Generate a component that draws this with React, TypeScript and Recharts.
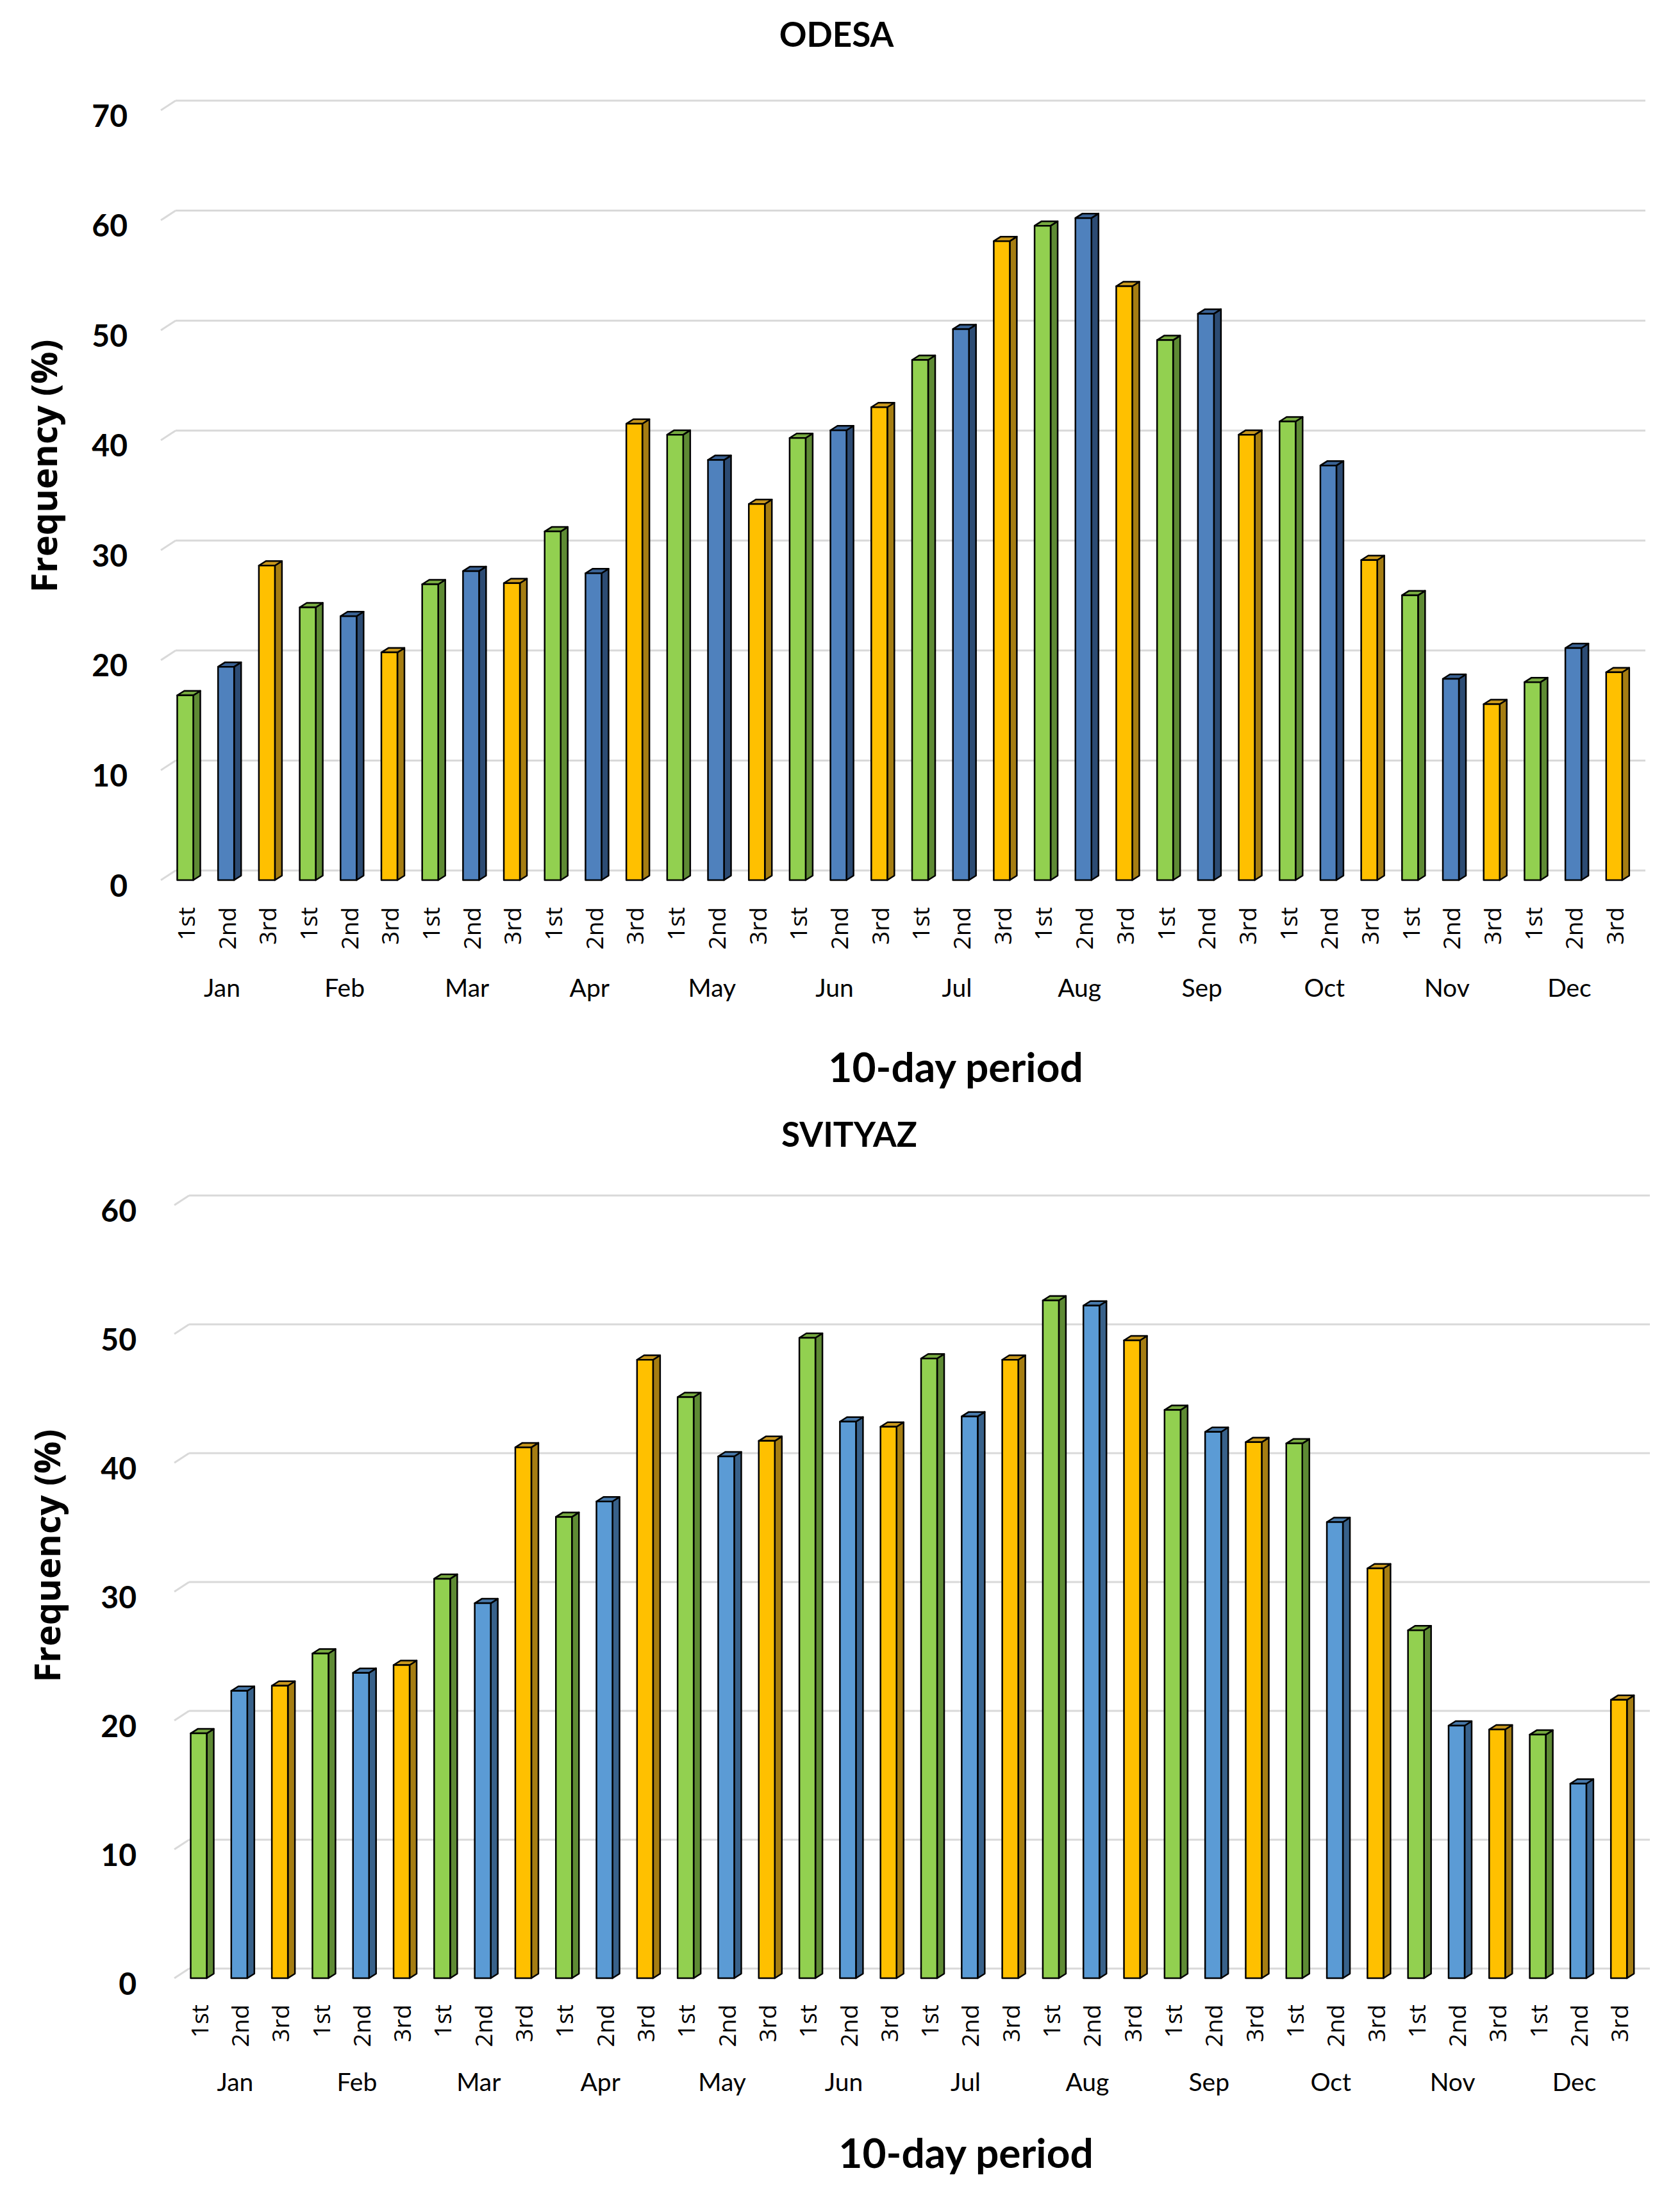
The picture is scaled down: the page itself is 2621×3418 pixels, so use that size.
import React from 'react';
import { BarChart, Bar, XAxis, YAxis, CartesianGrid } from 'recharts';

const months = ['Jan', 'Feb', 'Mar', 'Apr', 'May', 'Jun', 'Jul', 'Aug', 'Sep', 'Oct', 'Nov', 'Dec'];
const periods = ['1st', '2nd', '3rd'];

const odesaValues = [
  16.8, 19.4, 28.6, 24.8, 24.0, 20.7, 26.9, 28.1, 27.0, 31.7, 27.9, 41.5,
  40.5, 38.2, 34.2, 40.2, 40.9, 43.0, 47.3, 50.1, 58.1, 59.5, 60.2, 54.0,
  49.1, 51.5, 40.5, 41.7, 37.7, 29.1, 25.9, 18.3, 16.0, 18.0, 21.1, 18.9,
];

const svityazValues = [
  19.0, 22.3, 22.7, 25.2, 23.7, 24.3, 31.0, 29.1, 41.2, 35.8, 37.0, 48.0,
  45.1, 40.5, 41.7, 49.7, 43.2, 42.8, 48.1, 43.6, 48.0, 52.6, 52.2, 49.5,
  44.1, 42.4, 41.6, 41.5, 35.4, 31.8, 27.0, 19.6, 19.3, 18.9, 15.1, 21.6,
];

const odesaTicks = [0, 10, 20, 30, 40, 50, 60, 70];
const svityazTicks = [0, 10, 20, 30, 40, 50, 60];

type Row = { key: string; month: string; period: string; value: number };

const buildRows = (values: number[]): Row[] =>
  values.map((v, i) => ({
    key: `${months[Math.floor(i / 3)]}-${periods[i % 3]}`,
    month: months[Math.floor(i / 3)],
    period: periods[i % 3],
    value: v,
  }));

// bar depth of the fake 3D effect
const DX = 11;
const DY = 7;

type Palette = Record<string, { front: string; side: string; top: string }>;

const greenC = { front: '#92D050', side: '#5E8A34', top: '#77AA40' };
const yellowC = { front: '#FFC000', side: '#A57D12', top: '#C9981C' };

const odesaPalette: Palette = {
  '1st': greenC,
  '2nd': { front: '#4F81BD', side: '#2C4B73', top: '#3A6294' },
  '3rd': yellowC,
};
const svityazPalette: Palette = {
  '1st': greenC,
  '2nd': { front: '#5B9BD5', side: '#38618A', top: '#4879AA' },
  '3rd': yellowC,
};

const FONT_NUM = 'Lato, "Noto Sans", sans-serif';
const FONT_SEGOE = '"Open Sans", "Noto Sans", sans-serif';

interface ChartProps {
  title: string;
  rows: Row[];
  ticks: number[];
  palette: Palette;
  top: number;
  height: number;
  marginTop: number;
  plotBottom: number;
  yAxisWidth: number;
  marginRight: number;
  yLabelX: number;
  periodOffset: number;
  monthOffset: number;
  titlePos: [number, number];
  yTitlePos: [number, number];
  xTitlePos: [number, number];
}

function StationChart(p: ChartProps) {
  const max = p.ticks[p.ticks.length - 1];

  const renderBar = (props: any) => {
    const { x, y, width, height, payload } = props;
    if (height == null || width == null) return <g />;
    const c = p.palette[payload.period];
    const fx = x - DX / 2;
    const w = width;
    const h = height;
    return (
      <g stroke="#000" strokeWidth={2.5} strokeLinejoin="round">
        <polygon
          points={`${fx + w},${y} ${fx + w + DX},${y - DY} ${fx + w + DX},${y + h - DY} ${fx + w},${y + h}`}
          fill={c.side}
        />
        <polygon
          points={`${fx},${y} ${fx + DX},${y - DY} ${fx + w + DX},${y - DY} ${fx + w},${y}`}
          fill={c.top}
        />
        <rect x={fx} y={y} width={w} height={h} fill={c.front} />
      </g>
    );
  };

  const gridLine = (g: any) => {
    const { x1, x2, y1, key } = g;
    return (
      <g key={key} stroke="#D9D9D9" strokeWidth={3}>
        <line x1={x1 - 12} y1={y1} x2={x1 + 11} y2={y1 - 15} />
        <line x1={x1 + 11} y1={y1 - 15} x2={x2 + 11} y2={y1 - 15} />
      </g>
    );
  };

  const xTick = (t: any) => {
    const { x, y, index } = t;
    const row = p.rows[index];
    if (!row) return <g />;
    const tx = x - DX / 2;
    const ty = y + p.periodOffset;
    return (
      <g>
        <text
          x={tx}
          y={ty}
          transform={`rotate(-90, ${tx}, ${ty})`}
          textAnchor="end"
          dominantBaseline="central"
          fontFamily={FONT_SEGOE}
          fontSize={37}
          fill="#000"
        >
          {row.period}
        </text>
        {index % 3 === 1 && (
          <text
            x={x - 12}
            y={y + p.monthOffset}
            textAnchor="middle"
            dominantBaseline="central"
            fontFamily={FONT_NUM}
            fontSize={39}
            fill="#000"
          >
            {row.month}
          </text>
        )}
      </g>
    );
  };

  const yTick = (t: any) => {
    const { y, payload } = t;
    return (
      <text
        x={p.yLabelX}
        y={y + 7}
        textAnchor="end"
        dominantBaseline="central"
        fontFamily={FONT_NUM}
        fontWeight={700}
        fontSize={48}
        fill="#000"
      >
        {payload.value}
      </text>
    );
  };

  const xAxisHeight = p.height - p.plotBottom;

  return (
    <div style={{ position: 'absolute', left: 0, top: p.top, width: 2621, height: p.height }}>
      <BarChart
        width={2621}
        height={p.height}
        data={p.rows}
        margin={{ top: p.marginTop, right: p.marginRight, bottom: 0, left: 0 }}
        barSize={25}
      >
        <CartesianGrid vertical={false} horizontal={gridLine} />
        <XAxis
          dataKey="key"
          interval={0}
          height={xAxisHeight}
          tickLine={false}
          axisLine={false}
          tickSize={0}
          tickMargin={0}
          tick={xTick}
        />
        <YAxis
          domain={[0, max]}
          ticks={p.ticks}
          interval={0}
          width={p.yAxisWidth}
          tickLine={false}
          axisLine={false}
          tickSize={0}
          tick={yTick}
        />
        <Bar dataKey="value" shape={renderBar} isAnimationActive={false} />
      </BarChart>
      <div
        style={{
          position: 'absolute',
          left: p.titlePos[0],
          top: p.titlePos[1],
          transform: 'translate(-50%, -50%)',
          fontFamily: FONT_NUM,
          fontWeight: 700,
          fontSize: 53,
          whiteSpace: 'nowrap',
        }}
      >
        {p.title}
      </div>
      <div
        style={{
          position: 'absolute',
          left: p.yTitlePos[0],
          top: p.yTitlePos[1],
          transform: 'translate(-50%, -50%) rotate(-90deg)',
          fontFamily: FONT_SEGOE,
          fontWeight: 700,
          fontSize: 56,
          whiteSpace: 'nowrap',
        }}
      >
        Frequency (%)
      </div>
      <div
        style={{
          position: 'absolute',
          left: p.xTitlePos[0],
          top: p.xTitlePos[1],
          transform: 'translate(-50%, -50%)',
          fontFamily: FONT_NUM,
          fontWeight: 700,
          fontSize: 64,
          whiteSpace: 'nowrap',
        }}
      >
        10-day period
      </div>
    </div>
  );
}

export default function App() {
  return (
    <div style={{ position: 'relative', width: 2621, height: 3418, background: '#fff' }}>
      <style>{'body { margin: 0; }'}</style>
      <StationChart
        title="ODESA"
        rows={buildRows(odesaValues)}
        ticks={odesaTicks}
        palette={odesaPalette}
        top={0}
        height={1700}
        marginTop={172}
        plotBottom={1373}
        yAxisWidth={263}
        marginRight={65}
        yLabelX={199}
        periodOffset={42}
        monthOffset={167}
        titlePos={[1305, 52]}
        yTitlePos={[67, 727]}
        xTitlePos={[1491, 1663]}
      />
      <StationChart
        title="SVITYAZ"
        rows={buildRows(svityazValues)}
        ticks={svityazTicks}
        palette={svityazPalette}
        top={1700}
        height={1718}
        marginTop={180}
        plotBottom={1386}
        yAxisWidth={284}
        marginRight={58}
        yLabelX={213}
        periodOffset={41}
        monthOffset={161}
        titlePos={[1325, 68]}
        yTitlePos={[72, 727]}
        xTitlePos={[1507, 1657]}
      />
    </div>
  );
}
